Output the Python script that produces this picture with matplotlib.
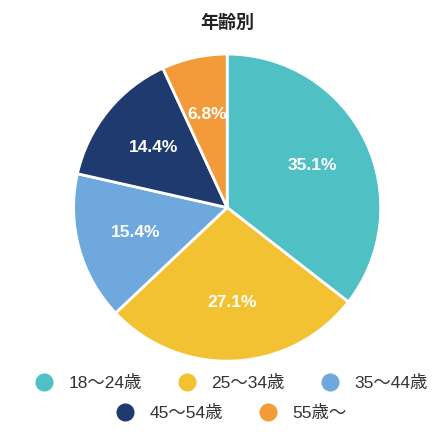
import matplotlib
matplotlib.use("Agg")
import matplotlib.pyplot as plt
from matplotlib.lines import Line2D

plt.rcParams['font.family'] = ['Liberation Sans', 'Noto Sans CJK JP', 'DejaVu Sans']

labels = ["18～24歳", "25～34歳", "35～44歳", "45～54歳", "55歳～"]
values = [35.1, 27.1, 15.4, 14.4, 6.8]
colors = ["#4fc1c5", "#f2c232", "#6fa8dc", "#1e3a6e", "#f39a3b"]

fig = plt.figure(figsize=(4.45, 4.45), dpi=100)
ax = fig.add_axes([0.162, 0.185, 0.697, 0.697])
wedges, texts = ax.pie(values, colors=colors, startangle=90, counterclock=False,
       labels=[f"{v:.1f}%" for v in values], labeldistance=0.62,
       wedgeprops=dict(edgecolor='white', linewidth=2),
       textprops=dict(color='white', fontsize=12.5, fontweight='bold', ha='center', va='center'))
for t in texts:
    t.set_ha('center'); t.set_va('center')
ax.set_xlim(-1.01, 1.01); ax.set_ylim(-1.01, 1.01)
ax.set_aspect('equal')
fig.text(0.51, 0.95, "年齢別", ha='center', va='center', fontsize=13, fontweight='bold',
         color='#222222', family=['Noto Sans CJK JP'])

def handles(idx):
    return [Line2D([0], [0], marker='o', linestyle='', markersize=12,
                   markerfacecolor=colors[i], markeredgecolor=colors[i]) for i in idx]

kw = dict(loc='center', frameon=False, fontsize=12.5, handletextpad=0.4,
          columnspacing=1.6, labelcolor='#333333')
fig.legend(handles([0, 1, 2]), [labels[i] for i in [0, 1, 2]],
           bbox_to_anchor=(0.51, 0.139), ncol=3, **kw)
fig.legend(handles([3, 4]), [labels[i] for i in [3, 4]],
           bbox_to_anchor=(0.51, 0.072), ncol=2, **kw)

fig.savefig("out.png", dpi=100)
